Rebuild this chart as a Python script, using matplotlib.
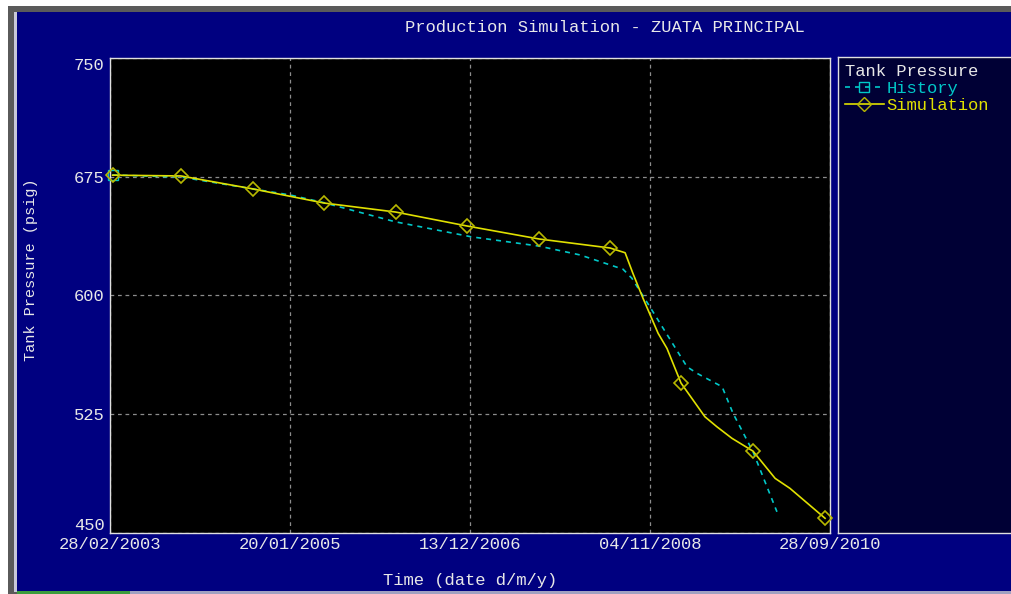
import matplotlib
matplotlib.use("Agg")
import matplotlib.pyplot as plt
from matplotlib.lines import Line2D
from matplotlib.patches import Rectangle
import pandas as pd

# ---------------- data ----------------
hist_dates = ["2003-03-10", "2003-11-28", "2004-08-31", "2005-01-20", "2005-05-31",
              "2006-02-28", "2006-12-17", "2007-09-05", "2008-02-10", "2008-07-24",
              "2008-08-27", "2008-11-12", "2009-03-27", "2009-05-05", "2009-08-09",
              "2009-09-20", "2009-12-06", "2010-03-08"]
hist_values = [676.1, 674.8, 667.3, 663.5, 658.6,
               646.6, 637.1, 631.2, 625.6, 616.6,
               610.9, 590.8, 555.0, 550.8, 542.4,
               525.6, 501.3, 463.4]

sim_dates = ["2003-03-10", "2003-11-28", "2004-08-31", "2005-05-31", "2006-03-03",
             "2006-12-02", "2007-09-05", "2008-06-04", "2008-08-01", "2008-08-31",
             "2008-10-09", "2008-12-06", "2009-01-09", "2009-03-04", "2009-06-04",
             "2009-07-20", "2009-09-16", "2009-10-29", "2009-12-06", "2010-03-01",
             "2010-04-27", "2010-09-09"]
sim_values = [676.0, 675.5, 667.3, 658.4, 652.7,
              643.9, 635.7, 630.0, 627.0, 614.0,
              598.2, 576.1, 566.6, 544.7, 523.4,
              517.1, 509.8, 505.5, 501.7, 484.5,
              478.2, 459.3]
sim_marker_idx = [0, 1, 2, 3, 4, 5, 6, 7, 13, 18, 21]

x_ticks = ["2003-02-28", "2005-01-20", "2006-12-13", "2008-11-04", "2010-09-28"]
y_ticks = [450, 525, 600, 675, 750]

title = "Production Simulation - ZUATA PRINCIPAL"
x_label = "Time (date d/m/y)"
y_label = "Tank Pressure (psig)"
legend_title = "Tank Pressure"
series_names = ["History", "Simulation"]

# ---------------- style ----------------
FONT = "Liberation Mono"
NAVY = "#000080"
CYAN = "#00c8c8"
YELLOW = "#e0e000"
OLIVE = "#b8b800"
TXT = "#e8e8e8"
FS = 12.3

W, H = 1011, 594
fig = plt.figure(figsize=(W / 100, H / 100), dpi=100)
fig.patch.set_facecolor("white")

def px_rect(x0, y0, x1, y1, color):
    fig.patches.append(Rectangle((x0 / W, 1 - y1 / H), (x1 - x0) / W, (y1 - y0) / H,
                                 transform=fig.transFigure, facecolor=color,
                                 edgecolor="none", zorder=-10))

# window frame
px_rect(8, 6, W, 594, "#5a5a5a")
px_rect(14, 12, 17, 592, "#c8c8d8")
px_rect(17, 12, W, 591, NAVY)
px_rect(17, 591, 130, 594, "#3c9c3c")
px_rect(130, 591, W, 594, "#a0a0c0")

# main axes
L, T, R, B = 110, 58, 830, 533
ax = fig.add_axes([L / W, 1 - B / H, (R - L) / W, (B - T) / H])
ax.set_facecolor("black")
for s in ax.spines.values():
    s.set_color("#e0e0e0")
    s.set_linewidth(1.0)

hd = pd.to_datetime(hist_dates)
sd = pd.to_datetime(sim_dates)
xt = pd.to_datetime(x_ticks)

ax.plot(hd, hist_values, color=CYAN, lw=1.2, ls=(0, (3, 3)), zorder=3)
ax.plot(hd[:1], hist_values[:1], ls="none", marker="s", ms=7, mfc="none",
        mec=CYAN, mew=1.0, zorder=4, clip_on=False)
ax.plot(sd, sim_values, color=YELLOW, lw=1.2, zorder=5)
ax.plot(sd[sim_marker_idx], [sim_values[i] for i in sim_marker_idx], ls="none",
        marker="D", ms=7.5, mfc="none", mec=OLIVE, mew=1.2, zorder=6, clip_on=False)

ax.set_xlim(xt[0], xt[-1])
ax.set_ylim(y_ticks[0], y_ticks[-1])
ax.set_xticks(xt)
ax.set_xticklabels([d.strftime("%d/%m/%Y") for d in xt])
ax.set_yticks(y_ticks)
ax.set_yticklabels([str(v) for v in y_ticks])
ax.grid(True, color="#8c8c8c", ls=(0, (3, 3)), lw=0.9)
ax.tick_params(length=0, colors=TXT, labelsize=FS)
ax.tick_params(axis="x", pad=3)
ax.tick_params(axis="y", pad=4)
for lab in ax.get_xticklabels() + ax.get_yticklabels():
    lab.set_fontfamily(FONT)
ylabs = ax.get_yticklabels()
ylabs[0].set_verticalalignment("bottom")
ylabs[-1].set_verticalalignment("top")

fig.text(605 / W, 1 - 27 / H, title, ha="center", va="center", color=TXT,
         fontsize=FS, family=FONT)
fig.text(470 / W, 1 - 581 / H, x_label, ha="center", va="center", color=TXT,
         fontsize=FS, family=FONT)
fig.text(31 / W, 1 - 270 / H, y_label, ha="center", va="center", color=TXT,
         fontsize=11, family=FONT, rotation=90)

# legend box
lax = fig.add_axes([838 / W, 1 - 533 / H, (W + 5 - 838) / W, (533 - 57) / H])
lax.set_facecolor("#000035")
lax.set_xticks([]); lax.set_yticks([])
for k, s in lax.spines.items():
    s.set_color("#e0e0e0")
    s.set_linewidth(1.0)
lax.spines["right"].set_visible(False)

handles = [
    Line2D([], [], color=CYAN, lw=1.2, ls=(0, (3, 3)), marker="s", ms=7,
           mfc="none", mec=CYAN),
    Line2D([], [], color=YELLOW, lw=1.2, marker="D", ms=7, mfc="none", mec=OLIVE),
]
leg = lax.legend(handles, series_names, loc="upper left", bbox_to_anchor=(0.0, 1.0),
                 frameon=False, title=legend_title, alignment="left",
                 prop={"family": FONT, "size": FS},
                 title_fontproperties={"family": FONT, "size": FS},
                 handlelength=2.3, handletextpad=0.15, labelspacing=0.12,
                 borderpad=0.15, borderaxespad=0.25)
leg.get_title().set_color(TXT)
for t, c in zip(leg.get_texts(), [CYAN, YELLOW]):
    t.set_color(c)

fig.savefig("out.png", dpi=100, facecolor=fig.get_facecolor())
